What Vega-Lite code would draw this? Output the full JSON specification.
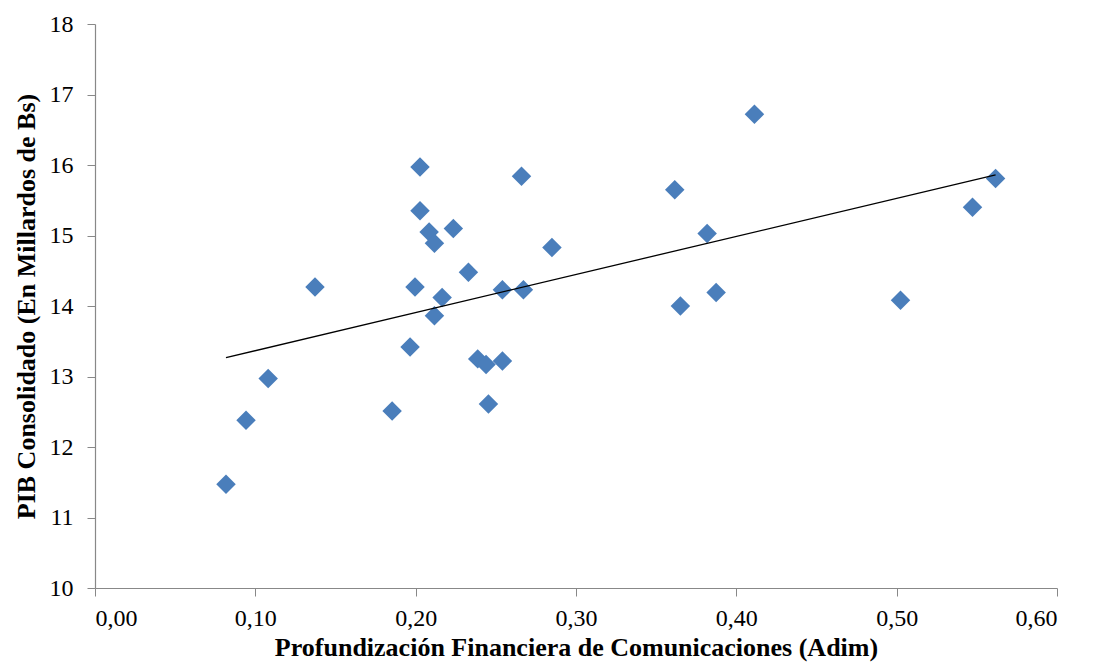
{
  "$schema": "https://vega.github.io/schema/vega-lite/v6.json",
  "autosize": "none",
  "width": 962,
  "height": 564,
  "padding": {"left": 95, "top": 24, "right": 40, "bottom": 81},
  "background": "white",
  "config": {"view": {"stroke": null}, "font": "Liberation Serif"},
  "data": {"values": [
    {"x": 0.0817, "y": 11.47},
    {"x": 0.0942, "y": 12.38},
    {"x": 0.108, "y": 12.97},
    {"x": 0.1853, "y": 12.51},
    {"x": 0.1372, "y": 14.27},
    {"x": 0.2027, "y": 15.97},
    {"x": 0.2027, "y": 15.35},
    {"x": 0.2084, "y": 15.05},
    {"x": 0.2117, "y": 14.89},
    {"x": 0.2235, "y": 15.10},
    {"x": 0.266, "y": 15.84},
    {"x": 0.285, "y": 14.83},
    {"x": 0.2329, "y": 14.48},
    {"x": 0.1996, "y": 14.27},
    {"x": 0.2165, "y": 14.12},
    {"x": 0.2117, "y": 13.86},
    {"x": 0.2541, "y": 14.23},
    {"x": 0.2672, "y": 14.23},
    {"x": 0.1965, "y": 13.42},
    {"x": 0.2387, "y": 13.25},
    {"x": 0.2439, "y": 13.17},
    {"x": 0.2541, "y": 13.22},
    {"x": 0.2454, "y": 12.61},
    {"x": 0.3616, "y": 15.65},
    {"x": 0.3818, "y": 15.03},
    {"x": 0.3874, "y": 14.19},
    {"x": 0.3651, "y": 14.00},
    {"x": 0.4113, "y": 16.72},
    {"x": 0.5617, "y": 15.81},
    {"x": 0.5473, "y": 15.40},
    {"x": 0.5024, "y": 14.08}
  ]},
  "layer": [
    {
      "mark": {"type": "point", "shape": "diamond", "filled": true, "size": 380, "color": "#4a7ebb", "opacity": 1},
      "encoding": {
        "x": {"field": "x", "type": "quantitative",
          "scale": {"domain": [0, 0.6], "nice": false, "zero": false},
          "axis": {"values": [0, 0.1, 0.2, 0.3, 0.4, 0.5, 0.6], "format": ".2f", "labelExpr": "replace(datum.label, '.', ',')",
            "grid": false, "domainColor": "#888888", "tickColor": "#888888", "tickSize": 8, "domainWidth": 1.2,
            "labelFont": "Liberation Serif", "labelFontSize": 24, "labelColor": "#000000", "labelPadding": 10,
            "title": "Profundización  Financiera de Comunicaciones (Adim)", "titleFont": "Liberation Serif", "titleFontSize": 26,
            "titleFontWeight": "bold", "titleColor": "#000000", "titlePadding": 4}},
        "y": {"field": "y", "type": "quantitative",
          "scale": {"domain": [10, 18], "nice": false, "zero": false},
          "axis": {"values": [10, 11, 12, 13, 14, 15, 16, 17, 18], "format": "d", "grid": false, "domainColor": "#888888", "tickColor": "#888888",
            "tickSize": 8, "domainWidth": 1.2,
            "labelFont": "Liberation Serif", "labelFontSize": 24, "labelColor": "#000000", "labelPadding": 14,
            "title": "PIB Consolidado (En Millardos  de Bs)", "titleFont": "Liberation Serif", "titleFontSize": 26,
            "titleFontWeight": "bold", "titleColor": "#000000", "titlePadding": 10}}
      }
    },
    {
      "transform": [{"regression": "y", "on": "x", "method": "linear", "extent": [0.0817, 0.5617]}],
      "mark": {"type": "line", "color": "#000000", "strokeWidth": 1.3},
      "encoding": {
        "x": {"field": "x", "type": "quantitative"},
        "y": {"field": "y", "type": "quantitative"}
      }
    }
  ]
}
